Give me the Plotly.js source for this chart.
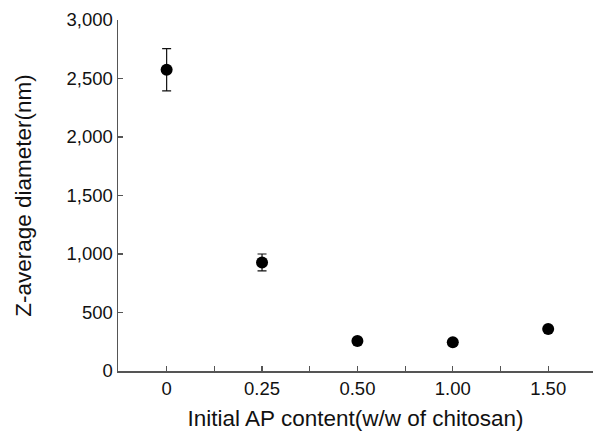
<!DOCTYPE html>
<html>
<head>
<meta charset="utf-8">
<script src="https://cdn.plot.ly/plotly-3.0.1.min.js"></script>
<style>html,body{margin:0;padding:0;background:#fff;}#chart{width:593px;height:434px;}</style>
</head>
<body>
<div id="chart"></div>
<script>
const categories = ["0", "0.25", "0.50", "1.00", "1.50"];
const diameter = [2575, 928, 256, 245, 359];
const errorSD = [180, 72, 18, 18, 18];
const yTickVals = [0, 500, 1000, 1500, 2000, 2500, 3000];
const yTickText = ["0", "500", "1,000", "1,500", "2,000", "2,500", "3,000"];

const tickFont = {family: "Liberation Sans, Arial, sans-serif", size: 18.5, color: "#111"};
const titleFont = {family: "Liberation Sans, Arial, sans-serif", size: 22.5, color: "#111"};
const axisColor = "#555";

const traces = [
  {
    type: "scatter", mode: "markers",
    x: categories, y: diameter,
    error_y: {type: "data", array: errorSD, visible: true, color: "#111", thickness: 1.2, width: 4.5},
    marker: {color: "#000", size: 12},
    xaxis: "x", yaxis: "y", showlegend: false, hoverinfo: "x+y"
  },
  {
    type: "scatter", mode: "markers",
    x: categories, y: diameter,
    marker: {opacity: 0}, xaxis: "x2", yaxis: "y",
    showlegend: false, hoverinfo: "skip"
  }
];

const layout = {
  width: 593, height: 434,
  margin: {l: 118, r: 0, t: 20, b: 63},
  paper_bgcolor: "#fff", plot_bgcolor: "#fff",
  font: tickFont,
  xaxis: {
    type: "category", categoryorder: "array", categoryarray: categories,
    range: [-0.51, 4.47],
    showline: true, linecolor: axisColor, linewidth: 1.5,
    ticks: "inside", ticklen: 5, tickcolor: axisColor, tickwidth: 1.2,
    showgrid: false, zeroline: false,
    tickfont: tickFont,
    title: {text: "Initial AP content(w/w of chitosan)", font: titleFont, standoff: 12}
  },
  xaxis2: {
    type: "category", categoryorder: "array", categoryarray: categories,
    overlaying: "x", side: "bottom", anchor: "y",
    range: [-0.51, 4.47],
    tickson: "boundaries",
    ticks: "inside", ticklen: 5, tickcolor: axisColor, tickwidth: 1.2,
    showticklabels: false, showgrid: false, zeroline: false, showline: false
  },
  yaxis: {
    range: [0, 3000],
    tickvals: yTickVals, ticktext: yTickText,
    showline: true, linecolor: axisColor, linewidth: 1.5,
    ticks: "inside", ticklen: 5, tickcolor: axisColor, tickwidth: 1.2,
    showgrid: false, zeroline: false,
    tickfont: tickFont,
    title: {text: "Z-average diameter(nm)", font: titleFont, standoff: 28}
  }
};

Plotly.newPlot("chart", traces, layout, {displayModeBar: false, staticPlot: true});
</script>
</body>
</html>
